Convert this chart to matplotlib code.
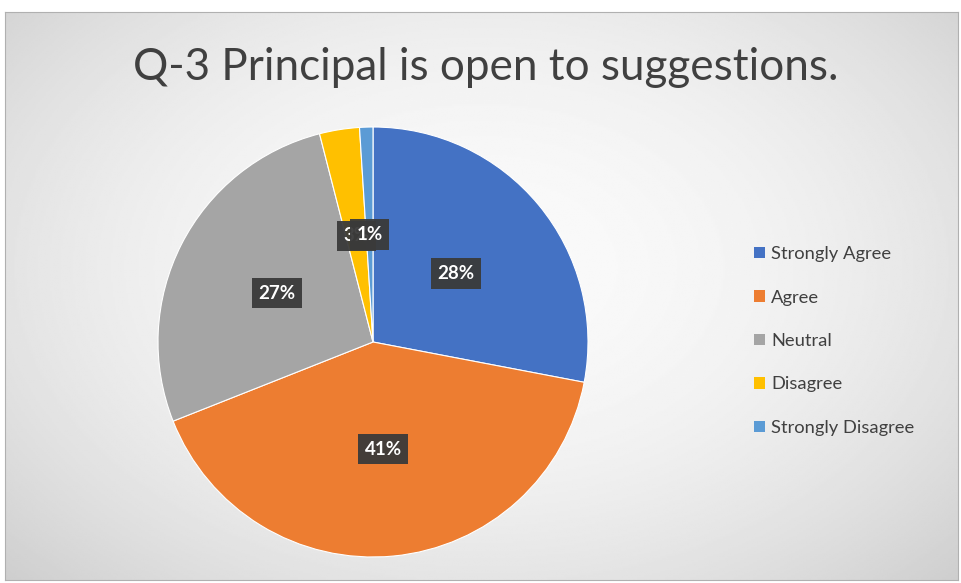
import numpy as np
import matplotlib.pyplot as plt

title = "Q-3 Principal is open to suggestions."
categories = ["Strongly Agree", "Agree", "Neutral", "Disagree", "Strongly Disagree"]
values = [28, 41, 27, 3, 1]
colors = ["#4472C4", "#ED7D31", "#A5A5A5", "#FFC000", "#5B9BD5"]

W, H = 962, 583
fig = plt.figure(figsize=(W / 100, H / 100), dpi=100)
fig.patch.set_facecolor("white")

# chart area background with a soft radial gradient
bg = fig.add_axes([5 / W, 3 / H, 953 / W, 568 / H])
yy, xx = np.mgrid[0:1:300j, 0:1:500j]
d = np.sqrt(((xx - 0.5) / 0.75) ** 2 + ((yy - 0.45) / 0.85) ** 2)
shade = 0.98 - 0.2 * np.clip(d, 0, 1) ** 2
bg.imshow(shade, cmap="gray", vmin=0, vmax=1, aspect="auto", extent=[0, 1, 0, 1])
bg.set_xticks([])
bg.set_yticks([])
for s in bg.spines.values():
    s.set_edgecolor("#b0b0b0")
    s.set_linewidth(0.8)

fig.text(486 / W, 1 - 68 / H, title, ha="center", va="center",
         fontsize=31.7, family="Lato", color="#404040")

# pie
cx, cy, r = 373, 342, 215
ax = fig.add_axes([(cx - r) / W, 1 - (cy + r) / H, 2 * r / W, 2 * r / H])
wedges, texts, autotexts = ax.pie(
    values, colors=colors, startangle=90, counterclock=False,
    autopct="%1.0f%%", pctdistance=0.5, radius=1,
    wedgeprops=dict(edgecolor="white", linewidth=0.8),
)
ax.set_xlim(-1, 1)
ax.set_ylim(-1, 1)
ax.set_aspect("equal")
for t in autotexts:
    t.set_color("white")
    t.set_fontweight("bold")
    t.set_fontsize(13.5)
    t.set_family("Lato")
    t.set_bbox(dict(boxstyle="square,pad=0.35", facecolor="#3a3a3a",
                    edgecolor="none", alpha=0.95))

leg = fig.legend(wedges, categories, loc="center left",
                 bbox_to_anchor=(738 / W, 1 - 341 / H), frameon=False,
                 prop=dict(family="Lato", size=13.2), handlelength=0.6,
                 handleheight=0.6, handletextpad=0.3, labelspacing=1.5)
for t in leg.get_texts():
    t.set_color("#404040")
for h in leg.legend_handles:
    h.set_edgecolor("none")

fig.savefig("out.png", dpi=100)
